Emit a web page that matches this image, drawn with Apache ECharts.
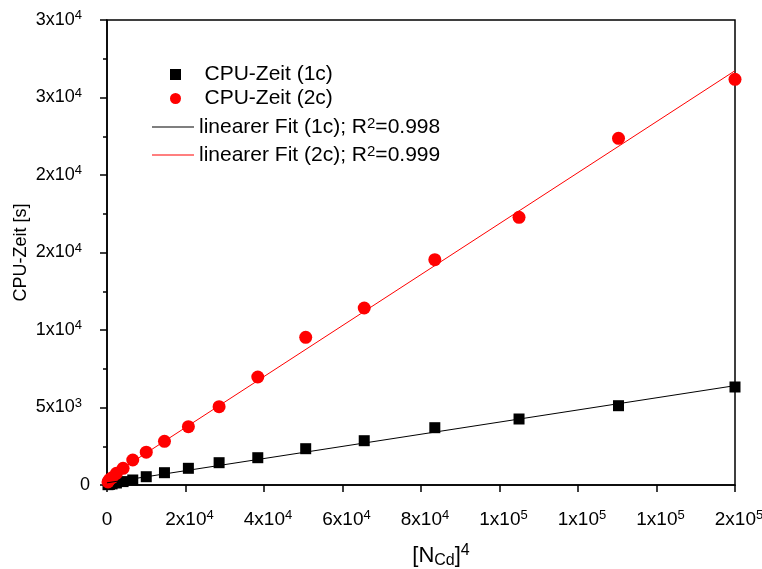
<!DOCTYPE html>
<html><head><meta charset="utf-8">
<script src="https://cdn.jsdelivr.net/npm/echarts@6/dist/echarts.min.js"></script>
<style>html,body{margin:0;padding:0;background:#fff}#c{width:762px;height:569px}</style>
</head><body><div id="c"></div>
<script>
// ---- data ----
const xValues = [256, 625, 1296, 2401, 4096, 6561, 10000, 14641, 20736, 28561, 38416, 50625, 65536, 83521, 104976, 130321, 160000];
const cpu1c   = [20, 40, 70, 130, 220, 323, 535, 794, 1077, 1439, 1761, 2342, 2858, 3697, 4258, 5116, 6323];
const cpu2c   = [200, 350, 470, 755, 1077, 1613, 2116, 2819, 3761, 5052, 6968, 9529, 11419, 14535, 17271, 22368, 26174];
const fitX    = [0, 160000];
const fit1c   = [140, 6410];
const fit2c   = [420, 26730];
const xTickLabels = ['0', '2x10{s|4}', '4x10{s|4}', '6x10{s|4}', '8x10{s|4}', '1x10{s|5}', '1x10{s|5}', '1x10{s|5}', '2x10{s|5}'];
const yTickLabels = ['0', '5x10{s|3}', '1x10{s|4}', '2x10{s|4}', '2x10{s|4}', '3x10{s|4}', '3x10{s|4}'];
const seriesNames = ['CPU-Zeit (1c)', 'CPU-Zeit (2c)', 'linearer Fit (1c); R²=0.998', 'linearer Fit (2c); R²=0.999'];
const xTitle = '[N{sub|Cd}]{sup|4}';
const yTitle = 'CPU-Zeit [s]';

const FONT = 'Liberation Sans, Arial, Helvetica, sans-serif';
const pairs = (xs, ys) => xs.map((x, i) => [x, ys[i]]);
const SQUARE = 'path://M0,0H10V10H0Z';
const CIRCLE = 'path://M5,0A5,5,0,1,1,5,10A5,5,0,1,1,5,0Z';

const chart = echarts.init(document.getElementById('c'), null, {renderer: 'canvas'});
chart.setOption({
  animation: false,
  backgroundColor: '#fff',
  textStyle: {fontFamily: FONT, color: '#000'},
  grid: {left: 107, right: 27, top: 20, bottom: 84, outerBoundsMode: 'none', containLabel: false,
    show: true, borderColor: '#000', borderWidth: 1.5, backgroundColor: 'transparent'},
  legend: [
    {
      data: [{name: seriesNames[0], icon: SQUARE}, {name: seriesNames[1], icon: CIRCLE}],
      orient: 'vertical', left: 170, top: 64, padding: 0, symbolKeepAspect: true,
      itemWidth: 48, itemHeight: 11, itemGap: 3,
      textStyle: {fontFamily: FONT, fontSize: 21, lineHeight: 20, color: '#000'}
    },
    {
      data: [{name: seriesNames[2], icon: 'rect'}, {name: seriesNames[3], icon: 'rect'}],
      orient: 'vertical', left: 152, top: 116, padding: 0,
      itemWidth: 42, itemHeight: 1.2, itemGap: 6,
      formatter: n => n.replace('R²', 'R{sup|2}'),
      textStyle: {fontFamily: FONT, fontSize: 21, lineHeight: 22, color: '#000',
        rich: {sup: {fontFamily: FONT, fontSize: 15, lineHeight: 15, verticalAlign: 'top', color: '#000'}}}
    }
  ],
  xAxis: {
    type: 'value', min: 0, max: 160000, interval: 20000,
    name: xTitle, nameLocation: 'middle', nameGap: 58, nameMoveOverlap: false,
    nameTextStyle: {fontFamily: FONT, fontSize: 22, lineHeight: 26, color: '#000', padding: [0, 0, 0, 40],
      rich: {
        sub: {fontFamily: FONT, fontSize: 16, lineHeight: 14, verticalAlign: 'bottom', color: '#000'},
        sup: {fontFamily: FONT, fontSize: 16, lineHeight: 16, verticalAlign: 'top', color: '#000'}
      }},
    axisLine: {show: true, lineStyle: {color: '#000', width: 1.5}},
    axisTick: {show: true, inside: false, length: 7, lineStyle: {color: '#000', width: 1.5}},
    splitLine: {show: false},
    axisLabel: {
      formatter: v => { const i = Math.round(v / 20000); return (i > 0 ? '{p| }' : '') + xTickLabels[i]; },
      fontFamily: FONT, fontSize: 19, lineHeight: 22, color: '#000', margin: 24,
      showMinLabel: true, showMaxLabel: true,
      rich: {
        s: {fontFamily: FONT, fontSize: 13, lineHeight: 13, verticalAlign: 'top', color: '#000'},
        p: {fontFamily: FONT, fontSize: 19, width: 8}
      }
    }
  },
  yAxis: {
    type: 'value', min: 0, max: 30000, interval: 5000,
    name: yTitle, nameLocation: 'middle', nameGap: 77, nameRotate: 90, nameMoveOverlap: false,
    nameTextStyle: {fontFamily: FONT, fontSize: 18, color: '#000'},
    axisLine: {show: true, lineStyle: {color: '#000', width: 1.5}},
    axisTick: {show: true, inside: false, length: 7, lineStyle: {color: '#000', width: 1.5}},
    minorTick: {show: true, splitNumber: 2, length: 4, lineStyle: {color: '#000', width: 1.5}},
    splitLine: {show: false},
    axisLabel: {
      formatter: v => yTickLabels[Math.round(v / 5000)],
      fontFamily: FONT, fontSize: 18, lineHeight: 22, color: '#000', margin: 17,
      showMinLabel: true, showMaxLabel: true,
      rich: {s: {fontFamily: FONT, fontSize: 13, lineHeight: 13, verticalAlign: 'top', color: '#000', padding: [0, 8, 0, 0]}}
    }
  },
  series: [
    {name: seriesNames[0], type: 'scatter', symbol: 'rect', symbolSize: 11, z: 2,
      itemStyle: {color: '#000', opacity: 1}, data: pairs(xValues, cpu1c)},
    {name: seriesNames[1], type: 'scatter', symbol: 'circle', symbolSize: 13, z: 2,
      itemStyle: {color: '#ff0000', opacity: 1}, data: pairs(xValues, cpu2c)},
    {name: seriesNames[2], type: 'line', symbol: 'none', z: 3,
      lineStyle: {color: '#000', width: 1}, itemStyle: {color: '#000'}, data: pairs(fitX, fit1c)},
    {name: seriesNames[3], type: 'line', symbol: 'none', z: 3,
      lineStyle: {color: '#ff0000', width: 1}, itemStyle: {color: '#ff0000'}, data: pairs(fitX, fit2c)}
  ]
});
</script></body></html>
